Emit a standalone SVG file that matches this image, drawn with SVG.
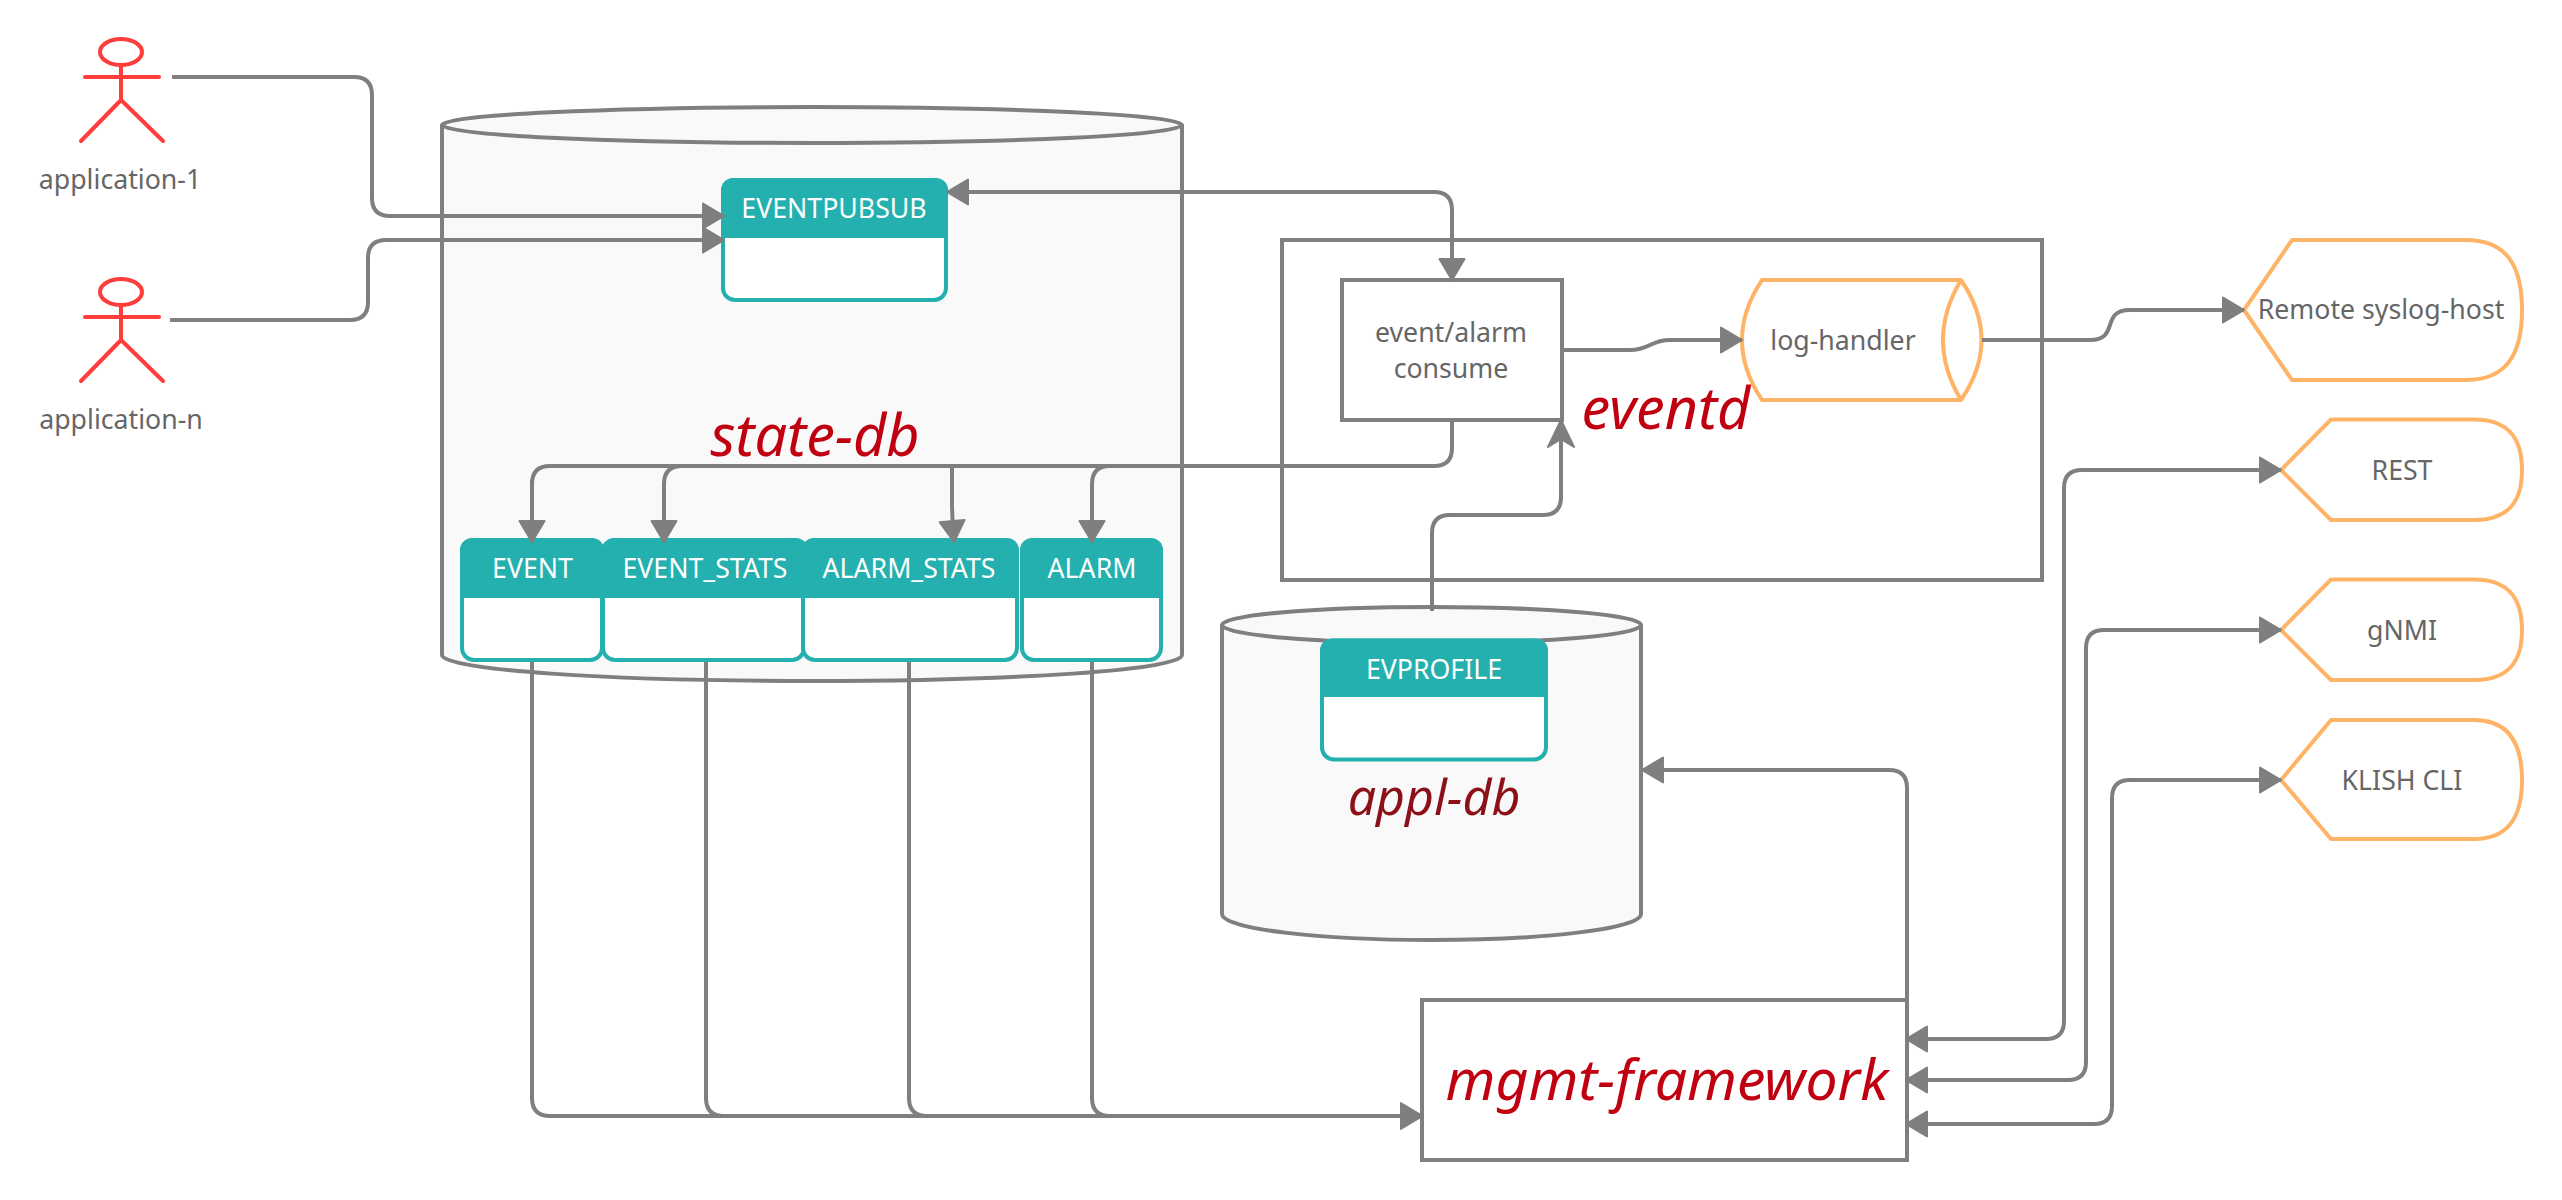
<svg xmlns="http://www.w3.org/2000/svg" width="2562" height="1200" viewBox="0 0 2562 1200">
<style>
text{font-family:"Noto Sans","Open Sans","DejaVu Sans",sans-serif;text-anchor:middle}
.lbl{font-size:26.700px;fill:#666}
.th{font-size:26.700px;fill:#fff}
.big{font-size:57.500px;font-style:italic;fill:#c00010}
.actor{fill:none;stroke:#ff3d3d;stroke-width:4;stroke-linecap:round;stroke-linejoin:round}
.db{fill:#f9f9f9;stroke:#7f7f7f;stroke-width:4}
.box{fill:#fff;stroke:#7f7f7f;stroke-width:4}
.boxo{fill:none;stroke:#7f7f7f;stroke-width:4}
.tb{fill:#fff;stroke:#24b0ae;stroke-width:4}
.thd{fill:#24b0ae}
.org{fill:#fff;stroke:#ffb366;stroke-width:4;stroke-linejoin:round}
.c{fill:none;stroke:#7f7f7f;stroke-width:4;marker-end:url(#a)}
.p{fill:none;stroke:#7f7f7f;stroke-width:4}
</style>
<defs>
<marker id="a" markerUnits="userSpaceOnUse" markerWidth="27" markerHeight="32" viewBox="-2 -16 27 32" refX="21" refY="0" orient="auto-start-reverse">
<path d="M0,-12.500 L21,0 L0,12.500Z" fill="#7f7f7f" stroke="#7f7f7f" stroke-width="2" stroke-linejoin="round"/>
</marker>
<marker id="b" markerUnits="userSpaceOnUse" markerWidth="32" markerHeight="32" viewBox="-2 -16 32 32" refX="27" refY="0" orient="auto">
<path d="M0,-13 L27,0 L0,13 L8,0Z" fill="#7f7f7f" stroke="#7f7f7f" stroke-width="2" stroke-linejoin="round"/>
</marker>
</defs>
<rect width="2562" height="1200" fill="#fff"/>
<g id="application-1"><g class="actor"><ellipse cx="121" cy="52" rx="21" ry="13"/><path d="M85,77H159M121,65V100M81,141L121,100L163,141"/></g><text class="lbl" x="120" y="189">application-1</text></g>
<g id="application-n"><g class="actor"><ellipse cx="121" cy="292" rx="21" ry="13"/><path d="M85,317H159M121,305V340M81,381L121,340L163,381"/></g><text class="lbl" x="121" y="429">application-n</text></g>
<g id="state-db">
<path class="db" d="M442,125V655C442,670 610,681 812,681C1014,681 1182,670 1182,655V125"/>
<ellipse class="db" cx="812" cy="125" rx="370" ry="18"/>
<text class="big" x="815" y="456">state-db</text>
</g>
<g id="EVENTPUBSUB"><rect class="tb" x="723" y="180" width="223" height="120" rx="12"/><path class="thd" d="M721,238V190A12,12 0 0 1 733,178H936A12,12 0 0 1 948,190V238Z"/><text class="th" x="834" y="218">EVENTPUBSUB</text></g>
<g id="EVENT"><rect class="tb" x="462" y="540" width="140" height="120" rx="12"/><path class="thd" d="M460,598V550A12,12 0 0 1 472,538H593A12,12 0 0 1 604,550V598Z"/><text class="th" x="532.500" y="578">EVENT</text></g>
<g id="EVENT_STATS"><rect class="tb" x="603" y="540" width="201" height="120" rx="12"/><path class="thd" d="M602,598V550A12,12 0 0 1 614,538H796A12,12 0 0 1 808,550V598Z"/><text class="th" x="705" y="578">EVENT_STATS</text></g>
<g id="ALARM_STATS"><rect class="tb" x="803" y="540" width="214" height="120" rx="12"/><path class="thd" d="M802,598V550A12,12 0 0 1 814,538H1007A12,12 0 0 1 1019,550V598Z"/><text class="th" x="909" y="578">ALARM_STATS</text></g>
<g id="ALARM"><rect class="tb" x="1022" y="540" width="139" height="120" rx="12"/><path class="thd" d="M1020,598V550A12,12 0 0 1 1032,538H1151A12,12 0 0 1 1163,550V598Z"/><text class="th" x="1092" y="578">ALARM</text></g>
<g id="eventd"><rect class="boxo" x="1282" y="240" width="760" height="340"/><text class="big" x="1666" y="429">eventd</text></g>
<g id="consume"><rect class="box" x="1342" y="280" width="220" height="140"/><text class="lbl" x="1451" y="342">event/alarm</text><text class="lbl" x="1451" y="378">consume</text></g>
<g id="log-handler"><path class="org" d="M1762,280H1961Q2002,340 1961,400H1762Q1722,340 1762,280Z"/><path class="org" style="fill:none" d="M1961,280Q1925,340 1961,400"/><text class="lbl" x="1843" y="350">log-handler</text></g>
<g id="syslog"><path class="org" d="M2244,310L2292,240H2466C2506,240 2522,265 2522,310C2522,355 2506,380 2466,380H2292Z"/><text class="lbl" x="2381" y="319">Remote syslog-host</text></g>
<g id="REST"><path class="org" d="M2281,470L2331,419.500H2474C2510,419.500 2522,440 2522,470C2522,500 2510,520 2474,520H2331Z"/><text class="lbl" x="2402" y="480">REST</text></g>
<g id="gNMI"><path class="org" d="M2281,630L2331,579.500H2474C2510,579.500 2522,600 2522,630C2522,660 2510,680 2474,680H2331Z"/><text class="lbl" x="2402" y="640">gNMI</text></g>
<g id="KLISH"><path class="org" d="M2281,780L2331,720H2474C2510,720 2522,745 2522,780C2522,815 2510,839 2474,839H2331Z"/><text class="lbl" x="2402" y="790">KLISH CLI</text></g>
<g id="appl-db">
<path class="db" d="M1222,625V914C1222,929 1320,940 1431,940C1542,940 1641,929 1641,914V625"/>
<ellipse class="db" cx="1431.500" cy="625" rx="209.500" ry="18"/>
<rect class="tb" x="1322" y="640.500" width="224" height="119" rx="12"/><path class="thd" d="M1320,697V650A12,12 0 0 1 1332,638.500H1536A12,12 0 0 1 1548,650V697Z"/><text class="th" x="1434" y="679">EVPROFILE</text>
<text class="big" x="1434" y="815" style="fill:#8b1018;font-size:50px">appl-db</text>
</g>
<g id="mgmt-framework"><rect class="box" x="1422" y="1000" width="485" height="160"/><text class="big" x="1667" y="1100" style="font-size:57px">mgmt-framework</text></g>
<g id="connectors">
<path class="c" d="M172,77H354Q372,77 372,95V198Q372,216 390,216H724"/>
<path class="c" d="M170,320H350Q368,320 368,302V258Q368,240 386,240H724"/>
<path class="c" style="marker-start:url(#a)" d="M947,192H1434Q1452,192 1452,210V280"/>
<path class="p" d="M1452,420V448Q1452,466 1434,466H550Q532,466 532,484"/>
<path class="c" d="M532,480V542"/>
<path class="c" d="M682,466Q664,466 664,484V542"/>
<path class="c" d="M952,466V500Q952,520 954,542"/>
<path class="c" d="M1110,466Q1092,466 1092,484V542"/>
<path class="c" d="M532,662V1098Q532,1116 550,1116H1422"/>
<path class="c" d="M706,662V1098Q706,1116 724,1116H1422"/>
<path class="c" d="M909,662V1098Q909,1116 927,1116H1422"/>
<path class="c" d="M1092,662V1098Q1092,1116 1110,1116H1422"/>
<path class="c" d="M1562,350H1630C1650,350 1650,340 1670,340H1742"/>
<path class="c" d="M1982,340H2090C2120,340 2100,310 2130,310H2244"/>
<path class="c" style="marker-end:url(#b)" d="M1432,611V533Q1432,515 1450,515H1543Q1561,515 1561,497V420"/>
<path class="c" d="M1907,1000V788Q1907,770 1889,770H1642"/>
<path class="c" style="marker-start:url(#a)" d="M2281,470H2082Q2064,470 2064,488V1021Q2064,1039 2046,1039H1906"/>
<path class="c" style="marker-start:url(#a)" d="M2281,630H2104Q2086,630 2086,648V1062Q2086,1080 2068,1080H1906"/>
<path class="c" style="marker-start:url(#a)" d="M2281,780H2130Q2112,780 2112,798V1106Q2112,1124 2094,1124H1906"/>
</g>
</svg>
